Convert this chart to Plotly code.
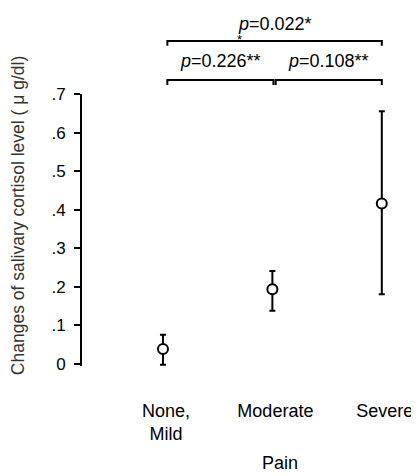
import plotly.graph_objects as go

# ---- data ----
categories = ["None,<br>Mild", "Moderate", "Severe"]
means = [0.039, 0.1935, 0.416]
upper = [0.076, 0.241, 0.655]
lower = [-0.002, 0.138, 0.181]
y_tickvals = [0, 0.1, 0.2, 0.3, 0.4, 0.5, 0.6, 0.7]
y_ticktext = ["0", ".1", ".2", ".3", ".4", ".5", ".6", ".7"]
comparisons = [  # (from index, to index, label, level)
    (0, 1, "<i>p</i>=0.226**", 0),
    (1, 2, "<i>p</i>=0.108**", 0),
    (0, 2, "<i>p</i>=0.022*", 1),
]

err_plus = [u - m for u, m in zip(upper, means)]
err_minus = [m - l for m, l in zip(means, lower)]

XR = [-0.74, 2.34]
YR = [-0.0052, 0.7]
FONT = "Liberation Sans, Arial, sans-serif"

fig = go.Figure()
fig.add_trace(go.Scatter(
    x=categories, y=means, mode="markers",
    marker=dict(symbol="circle", size=10, color="white",
                line=dict(color="black", width=2)),
    error_y=dict(type="data", symmetric=False, array=err_plus,
                 arrayminus=err_minus, color="black", thickness=2, width=3),
    showlegend=False, cliponaxis=False,
))


def xp(i):
    return (i - XR[0]) / (XR[1] - XR[0])


levels_y = [1.0515, 1.195]
tick_h = 0.018
text_off = [0.07, 0.063]
shapes = []
annotations = []
for a, b, label, lvl in comparisons:
    y0 = levels_y[lvl]
    x0 = xp(a + 0.03) if a == 1 else xp(a + 0.04)
    x1 = xp(b) if b == 2 else xp(b + 0.01)
    shapes.append(dict(type="path", xref="paper", yref="paper",
                       path=f"M {x0},{y0 - tick_h} L {x0},{y0} L {x1},{y0} L {x1},{y0 - tick_h}",
                       line=dict(color="black", width=2)))
    annotations.append(dict(text=label, xref="paper", yref="paper",
                            x=(x0 + x1) / 2, y=y0 + text_off[lvl], showarrow=False,
                            xanchor="center", yanchor="middle",
                            font=dict(size=18, color="black", family=FONT)))
# stray asterisk just above the top bracket
annotations.append(dict(text="*", xref="paper", yref="paper", x=xp(0.70), y=1.199,
                        showarrow=False, xanchor="center", yanchor="middle",
                        font=dict(size=13, color="black", family=FONT)))
# y title
annotations.append(dict(text="Changes of salivary cortisol level ( μ g/dl)",
                        xref="paper", yref="paper", x=(18 - 82) / 337, y=0.551,
                        textangle=-90, showarrow=False, xanchor="center", yanchor="middle",
                        font=dict(size=17.5, color="#333", family=FONT)))
# x title
annotations.append(dict(text="Pain", xref="paper", yref="paper", x=xp(1.07), y=-0.355,
                        showarrow=False, xanchor="center", yanchor="middle",
                        font=dict(size=18, color="black", family=FONT)))

fig.update_layout(
    width=411, height=468,
    margin=dict(l=74, r=0, t=86, b=110),
    plot_bgcolor="white", paper_bgcolor="white",
    shapes=shapes, annotations=annotations,
    xaxis=dict(type="category", range=XR, showgrid=False, zeroline=False,
               showline=False, ticks="", ticklabelstandoff=32, ticklabelshift=3,
               tickfont=dict(size=18, color="black", family=FONT)),
    yaxis=dict(range=YR, tickvals=y_tickvals, ticktext=y_ticktext,
               showgrid=False, zeroline=False, showline=True, linecolor="black",
               linewidth=2, ticks="outside", ticklen=6, tickwidth=1.5,
               tickcolor="black", ticklabelstandoff=5,
               tickfont=dict(size=17, color="black", family=FONT)),
)

fig.write_html("out.html")
